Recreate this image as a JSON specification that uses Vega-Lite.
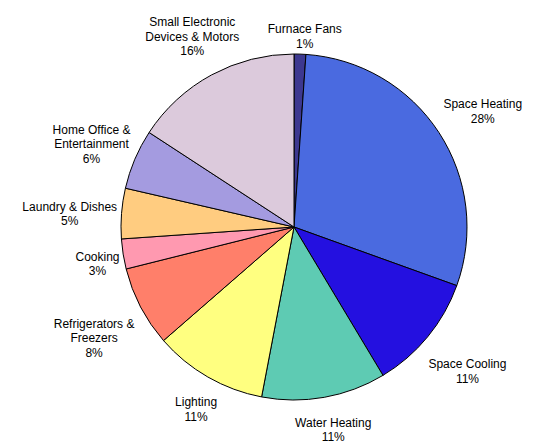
{
  "$schema": "https://vega.github.io/schema/vega-lite/v6.json",
  "width": 496,
  "height": 444,
  "autosize": {"type": "none"},
  "padding": {"left": 46, "top": 5, "right": 0, "bottom": 0},
  "background": "white",
  "config": {"view": {"stroke": null}},
  "data": {
    "values": [
      {"rank": 1, "use": "Furnace Fans", "label": ["Furnace Fans", "1%"], "pct": 1.1},
      {"rank": 2, "use": "Space Heating", "label": ["Space Heating", "28%"], "pct": 29.4},
      {"rank": 3, "use": "Space Cooling", "label": ["Space Cooling", "11%"], "pct": 10.9},
      {"rank": 4, "use": "Water Heating", "label": ["Water Heating", "11%"], "pct": 11.6},
      {"rank": 5, "use": "Lighting", "label": ["Lighting", "11%"], "pct": 10.6},
      {"rank": 6, "use": "Refrigerators & Freezers", "label": ["Refrigerators &", "Freezers", "8%"], "pct": 7.5},
      {"rank": 7, "use": "Cooking", "label": ["Cooking", "3%"], "pct": 2.8},
      {"rank": 8, "use": "Laundry & Dishes", "label": ["Laundry & Dishes", "5%"], "pct": 4.7},
      {"rank": 9, "use": "Home Office & Entertainment", "label": ["Home Office &", "Entertainment", "6%"], "pct": 5.6},
      {"rank": 10, "use": "Small Electronic Devices & Motors", "label": ["Small Electronic", "Devices & Motors", "16%"], "pct": 15.8}
    ]
  },
  "encoding": {
    "theta": {"field": "pct", "type": "quantitative", "stack": true},
    "order": {"field": "rank", "type": "quantitative"}
  },
  "layer": [
    {
      "mark": {"type": "arc", "radius": 173, "stroke": "black", "strokeWidth": 1},
      "encoding": {
        "color": {
          "field": "use",
          "type": "nominal",
          "legend": null,
          "scale": {
            "domain": [
              "Furnace Fans",
              "Space Heating",
              "Space Cooling",
              "Water Heating",
              "Lighting",
              "Refrigerators & Freezers",
              "Cooking",
              "Laundry & Dishes",
              "Home Office & Entertainment",
              "Small Electronic Devices & Motors"
            ],
            "range": [
              "#3d3890",
              "#4a6ae0",
              "#2410e0",
              "#5ecbb3",
              "#ffff80",
              "#ff7f6a",
              "#ff99b0",
              "#ffcc80",
              "#a49be0",
              "#dccadc"
            ]
          }
        }
      }
    },
    {
      "mark": {
        "type": "text",
        "radius": {"expr": "180 + 3 * max(length(datum.label[0]), length(datum.label[1])) * abs(sin(PI * (datum.pct_start + datum.pct_end) / 100)) + 7.25 * length(datum.label) * abs(cos(PI * (datum.pct_start + datum.pct_end) / 100))"},
        "dx": 4,
        "dy": {"expr": "5 - 7.25 * (length(datum.label) - 1)"},
        "align": "center",
        "baseline": "middle",
        "font": "Liberation Sans",
        "fontSize": 12,
        "lineHeight": 14.5,
        "color": "black"
      },
      "encoding": {
        "text": {"field": "label"}
      }
    }
  ]
}
